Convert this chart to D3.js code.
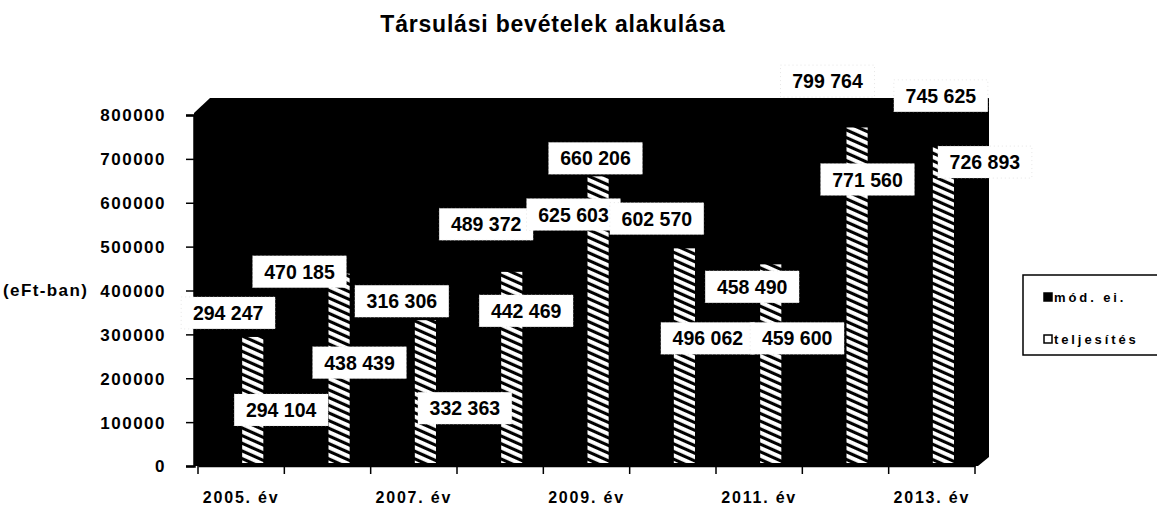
<!DOCTYPE html>
<html>
<head>
<meta charset="utf-8">
<script src="https://cdn.jsdelivr.net/npm/d3@7"></script>
<style>
body{margin:0;background:#fff}
text{font-family:Arial,"Liberation Sans",sans-serif;font-weight:bold;fill:#000}
.tick text{font-size:17px;letter-spacing:1.5px}
.xax .tick text{font-size:16px;letter-spacing:1.8px}
.plotTitle{font-size:23px;letter-spacing:0.8px}
.lbl{font-size:19.5px}
.legend{font-size:13px;letter-spacing:2.9px}
</style>
</head>
<body>
<svg id="chart" width="1157" height="509"></svg>
<script>
// data
const years = ["2005","2006","2007","2008","2009","2010","2011","2012","2013"]
const modEi = [294247,470185,316306,489372,625603,602570,458490,799764,745625]
const teljesites = [294104,438439,332363,442469,660206,496062,459600,771560,726893]
const yTicks = [0,100000,200000,300000,400000,500000,600000,700000,800000]
const xTickLabels = ["2005. év","","2007. év","","2009. év","","2011. év","","2013. év"]
const seriesNames = ["mód. ei.","teljesítés"]

// where excel dropped the data labels (offset from bar top)
const modLabelOff = [[-13,-24],[-28,12],[-12,-26],[-14,-27],[-13,23],[-16,17],[-7,22],[-18,-34],[9,-43]]
const teljLabelOff = [[40,73],[32,89],[51,88],[26,39],[9,-18],[35,90],[38,74],[22,52],[53,15]]

let svg = d3.select("#chart")

let hu = d3.formatLocale({decimal:",",thousands:" ",grouping:[3],currency:["",""]})
let fmt = hu.format(",")

let xScale = d3.scaleBand().domain(years).range([198,975])
let yScale = d3.scaleLinear().domain([0,800000]).range([466,115])

// hatch pattern
let defs = svg.append("defs")
let pat = defs.append("pattern").attr("id","hatch")
  .attr("patternUnits","userSpaceOnUse")
  .attr("width",7).attr("height",7)
  .attr("patternTransform","rotate(24)")
pat.append("rect").attr("width",7).attr("height",7).attr("fill","#000")
pat.append("rect").attr("width",7).attr("height",3.9).attr("fill","#fff")

// title
svg.append("text").attr("class","plotTitle")
  .attr("x",553).attr("y",32).attr("text-anchor","middle")
  .text("Társulási bevételek alakulása")

// black back wall
let x0 = 194, x1 = 989, yTop = 98, yBot = yScale(0)
svg.append("path")
  .attr("d",`M${x0},${yBot} L${x0},${yTop+15} L${x0+16},${yTop} L${x1},${yTop} L${x1},${yBot-9} L${x1-11},${yBot} Z`)
  .attr("fill","#000")

let bw = xScale.bandwidth()*0.245

// mód. ei. bars (black on black)
svg.selectAll(".mod").data(modEi).enter().append("rect")
  .attr("class","mod")
  .attr("x",(d,i)=>xScale(years[i])+xScale.bandwidth()/2-bw)
  .attr("y",d=>yScale(d))
  .attr("width",bw)
  .attr("height",d=>yScale(0)-yScale(d)-3)
  .attr("fill","#000")

// teljesítés bars
svg.selectAll(".telj").data(teljesites).enter().append("rect")
  .attr("class","telj")
  .attr("x",(d,i)=>xScale(years[i])+xScale.bandwidth()/2+1)
  .attr("y",d=>yScale(d))
  .attr("width",bw)
  .attr("height",d=>yScale(0)-yScale(d)-3)
  .attr("fill","url(#hatch)")

// y axis
let y_axis = d3.axisLeft(yScale).tickValues(yTicks).tickFormat(d3.format("d")).tickSize(8).tickPadding(20)
let ya = svg.append("g").attr("transform",`translate(${x0},0)`).call(y_axis)
ya.select(".domain").attr("stroke","#000").attr("stroke-width",2.5)
ya.selectAll(".tick line").attr("stroke-width",1.5)
ya.selectAll(".tick text").attr("dy","0.35em")

svg.append("text").attr("class","tick")
  .append("tspan").attr("x",3).attr("y",yScale(400000)).attr("dy","0.35em")
  .style("font-size","17px").style("letter-spacing","1.4px")
  .text("(eFt-ban)")

// x axis
let x_axis = d3.axisBottom(xScale).tickSize(0).tickPadding(26)
  .tickFormat((d,i)=>xTickLabels[i])
let xa = svg.append("g").attr("class","xax").attr("transform",`translate(0,${yScale(0)})`).call(x_axis)
xa.select(".domain").attr("stroke","#000").attr("stroke-width",1.5)

// ticks on the category edges
svg.selectAll(".xtick").data(years.concat(["end"])).enter().append("line")
  .attr("class","xtick")
  .attr("x1",(d,i)=>i<years.length ? xScale(d) : xScale.range()[1])
  .attr("x2",(d,i)=>i<years.length ? xScale(d) : xScale.range()[1])
  .attr("y1",yScale(0)).attr("y2",yScale(0)+8)
  .attr("stroke","#000").attr("stroke-width",1.5)

// data labels
function addLabels(values, offs, cls){
  let g = svg.selectAll("."+cls).data(values).enter().append("g")
    .attr("class",cls)
    .attr("transform",(d,i)=>`translate(${xScale(years[i])+xScale.bandwidth()/2+offs[i][0]},${yScale(d)+offs[i][1]})`)
  g.append("rect").attr("x",-47).attr("y",-16).attr("width",94).attr("height",32)
    .attr("fill","#fff").attr("stroke","#ccc").attr("stroke-width",0.5).attr("stroke-dasharray","1,3")
  g.append("text").attr("class","lbl").attr("text-anchor","middle").attr("dy","0.36em")
    .text(d=>fmt(d))
}
addLabels(modEi, modLabelOff, "modLbl")
addLabels(teljesites, teljLabelOff, "teljLbl")

// legend
let lg = svg.append("g").attr("transform","translate(1023,275)")
lg.append("rect").attr("width",160).attr("height",80)
  .attr("fill","#fff").attr("stroke","#000").attr("stroke-width",1.5)
seriesNames.forEach(function(d,i){
  let row = lg.append("g").attr("transform",`translate(21,${18+i*42})`)
  row.append("rect").attr("width",8).attr("height",8)
    .attr("fill",i==0 ? "#000" : "#fff").attr("stroke","#000").attr("stroke-width",1.5)
  row.append("text").attr("class","legend").attr("x",10).attr("y",9).text(d)
})
</script>
</body>
</html>
